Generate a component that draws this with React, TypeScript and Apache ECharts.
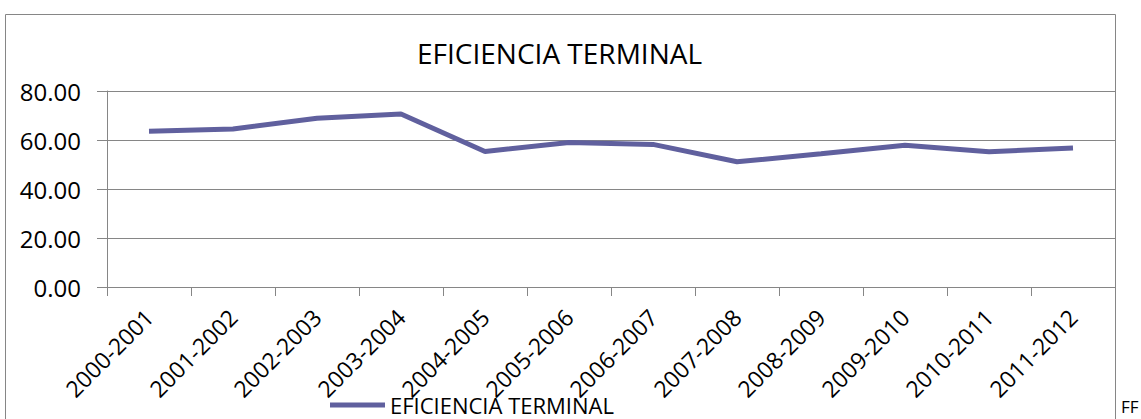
import React, { useEffect, useRef } from "react";
import * as echarts from "echarts";

const categories = [
  "2000-2001", "2001-2002", "2002-2003", "2003-2004", "2004-2005", "2005-2006",
  "2006-2007", "2007-2008", "2008-2009", "2009-2010", "2010-2011", "2011-2012",
];
const eficiencia = [63.6, 64.5, 68.9, 70.6, 55.3, 59.0, 58.2, 51.1, 54.4, 57.9, 55.2, 56.7];
const yTicks = { min: 0, max: 80, interval: 20 };
const seriesName = "EFICIENCIA TERMINAL";
const titleText = "EFICIENCIA TERMINAL";

const FONT = "'Open Sans', 'Noto Sans', sans-serif";
const GRAY = "#868686";

export default function App() {
  const ref = useRef<HTMLDivElement>(null);
  useEffect(() => {
    document.body.style.margin = "0";
    const chart = echarts.init(ref.current!, undefined, { renderer: "svg" });
    chart.setOption({
      animation: false,
      backgroundColor: "#ffffff",
      title: {
        text: titleText,
        left: 412,
        top: 34,
        textStyle: { fontFamily: FONT, fontSize: 28, fontWeight: "normal", color: "#000" },
      },
      legend: {
        left: 330,
        top: 394,
        padding: 0,
        icon: "rect",
        itemWidth: 55,
        itemHeight: 5,
        textStyle: { fontFamily: FONT, fontSize: 22, lineHeight: 20, color: "#000" },
        data: [seriesName],
      },
      grid: { left: 107, right: 26, top: 91, bottom: 132 },
      xAxis: {
        type: "category",
        data: categories,
        boundaryGap: true,
        axisLine: { show: true, lineStyle: { color: GRAY, width: 1 } },
        axisTick: { show: true, length: 9, lineStyle: { color: GRAY } },
        axisLabel: {
          rotate: 45,
          margin: 26,
          interval: 0,
          fontFamily: FONT,
          fontSize: 23,
          color: "#000",
        },
        splitLine: { show: false },
      },
      yAxis: {
        type: "value",
        min: yTicks.min,
        max: yTicks.max,
        interval: yTicks.interval,
        axisLine: { show: true, lineStyle: { color: GRAY, width: 1 } },
        axisTick: { show: true, length: 10, lineStyle: { color: GRAY } },
        axisLabel: {
          margin: 26,
          fontFamily: FONT,
          fontSize: 24,
          color: "#000",
          formatter: (v: number) => v.toFixed(2),
        },
        splitLine: { show: true, lineStyle: { color: GRAY, width: 1 } },
      },
      series: [
        {
          name: seriesName,
          type: "line",
          data: eficiencia,
          showSymbol: false,
          symbol: "none",
          color: "#60609e",
          lineStyle: { color: "#60609e", width: 5 },
        },
      ],
      graphic: [
        {
          type: "rect",
          shape: { x: 5.5, y: 14.5, width: 1110, height: 500 },
          style: { fill: "none", stroke: GRAY, lineWidth: 1 },
          silent: true,
          z: -10,
        },
        {
          type: "text",
          left: 1121,
          top: 398,
          style: { text: "FF", fontFamily: FONT, fontSize: 17, fill: "#000" },
        },
      ],
    });
    return () => chart.dispose();
  }, []);
  return <div ref={ref} style={{ width: 1141, height: 419 }} />;
}
